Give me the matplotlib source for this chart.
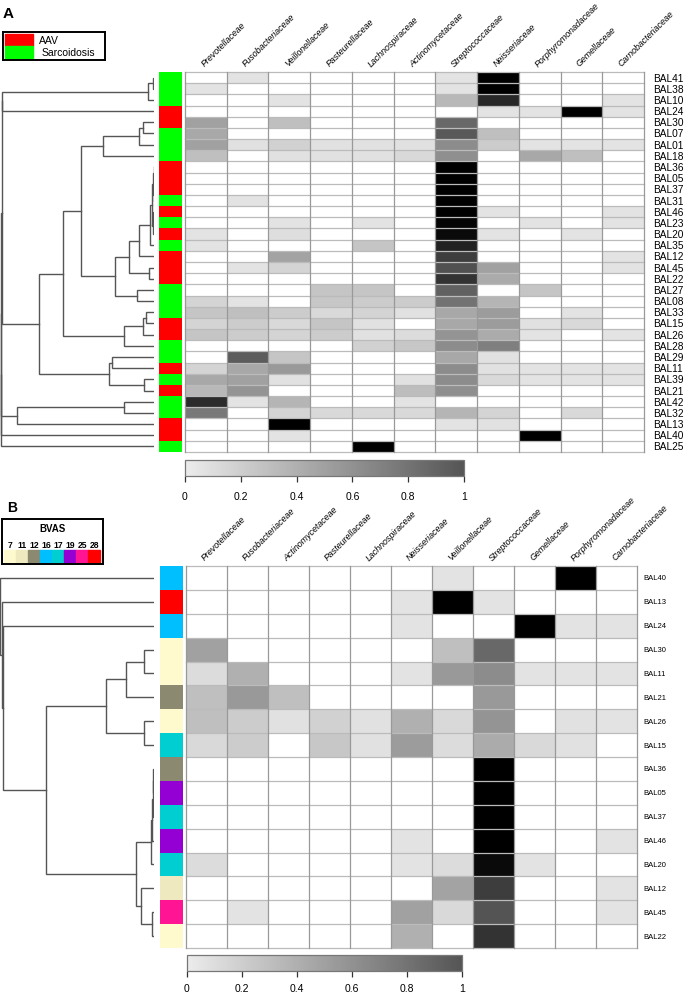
import numpy as np
import matplotlib
matplotlib.use("Agg")
import matplotlib.pyplot as plt
import matplotlib.cm as cm
from matplotlib.colors import LinearSegmentedColormap, Normalize
from matplotlib.patches import Rectangle

plt.rcParams['font.family'] = ['Liberation Sans', 'DejaVu Sans']

# ---------------- data : panel A ----------------
families_a = ["Prevotellaceae", "Fusobacteriaceae", "Veillonellaceae", "Pasteurellaceae",
              "Lachnospiraceae", "Actinomycetaceae", "Streptococcaceae", "Neisseriaceae",
              "Porphyromonadaceae", "Gemellaceae", "Carnobacteriaceae"]
samples_a = ["BAL41", "BAL38", "BAL10", "BAL24", "BAL30", "BAL07", "BAL01", "BAL18",
             "BAL36", "BAL05", "BAL37", "BAL31", "BAL46", "BAL23", "BAL20", "BAL35",
             "BAL12", "BAL45", "BAL22", "BAL27", "BAL08", "BAL33", "BAL15", "BAL26",
             "BAL28", "BAL29", "BAL11", "BAL39", "BAL21", "BAL42", "BAL32", "BAL13",
             "BAL40", "BAL25"]
groups_a = ["Sarcoidosis", "Sarcoidosis", "Sarcoidosis", "AAV", "AAV", "Sarcoidosis",
            "Sarcoidosis", "Sarcoidosis", "AAV", "AAV", "AAV", "Sarcoidosis", "AAV",
            "Sarcoidosis", "AAV", "Sarcoidosis", "AAV", "AAV", "AAV", "Sarcoidosis",
            "Sarcoidosis", "Sarcoidosis", "AAV", "AAV", "Sarcoidosis", "Sarcoidosis",
            "AAV", "Sarcoidosis", "AAV", "Sarcoidosis", "Sarcoidosis", "AAV", "AAV",
            "Sarcoidosis"]
abund_a = [
    [0, .11, 0, 0, 0, 0, .11, 1.0, 0, 0, 0],
    [.11, 0, 0, 0, 0, 0, .11, 1.0, 0, 0, 0],
    [0, 0, .11, 0, 0, 0, .28, .84, 0, 0, .11],
    [0, 0, 0, 0, 0, 0, 0, .11, .11, 1.0, .11],
    [.37, 0, .25, 0, 0, 0, .59, 0, 0, 0, 0],
    [.34, 0, 0, 0, 0, 0, .65, .25, 0, 0, 0],
    [.37, .12, .18, .12, .12, .12, .45, .20, .11, .11, .11],
    [.25, 0, .12, .12, .12, .15, .44, 0, .34, .25, 0],
    [0, 0, 0, 0, 0, 0, 1.0, 0, 0, 0, 0],
    [0, 0, 0, 0, 0, 0, 1.0, 0, 0, 0, 0],
    [0, 0, 0, 0, 0, 0, 1.0, 0, 0, 0, 0],
    [0, .11, 0, 0, 0, 0, 1.0, 0, 0, 0, 0],
    [0, 0, 0, 0, 0, 0, 1.0, .11, 0, 0, .11],
    [0, 0, .11, 0, .11, 0, .98, 0, .11, 0, .11],
    [.11, 0, .13, 0, 0, 0, .96, .11, 0, .11, 0],
    [.11, 0, 0, 0, .23, 0, .87, 0, 0, 0, 0],
    [0, 0, .36, 0, 0, 0, .76, 0, 0, 0, .11],
    [0, .11, .17, 0, 0, 0, .68, .37, 0, 0, .11],
    [0, 0, 0, 0, 0, 0, .80, .33, 0, 0, 0],
    [0, 0, 0, .23, .23, 0, .62, 0, .23, 0, 0],
    [.17, .11, 0, .22, .20, .20, .55, .29, 0, 0, 0],
    [.23, .25, .20, .15, .17, .12, .34, .39, 0, .11, 0],
    [.17, .20, .15, .23, .12, 0, .34, .39, .12, .15, 0],
    [.23, .20, .17, .20, .12, .14, .42, .33, .11, 0, .11],
    [0, 0, 0, 0, .18, .22, .45, .50, 0, 0, 0],
    [0, .64, .23, 0, 0, 0, .34, .12, 0, 0, 0],
    [.17, .34, .40, 0, 0, 0, .45, .12, .11, .11, .11],
    [.34, .37, .12, 0, 0, .12, .45, .15, .11, .11, .11],
    [.28, .42, 0, 0, 0, .26, .44, 0, 0, 0, 0],
    [.83, .11, .29, 0, 0, .11, 0, 0, 0, 0, 0],
    [.53, 0, .17, .15, .15, .15, .29, .17, 0, .15, 0],
    [0, 0, 1.0, 0, 0, 0, .11, .12, 0, 0, 0],
    [0, 0, .11, 0, 0, 0, 0, 0, 1.0, 0, 0],
    [0, 0, 0, 0, 1.0, 0, 0, 0, 0, 0, 0],
]
# merges: (child, child, distance); ids >= n refer to earlier merges
merges_a = [
    (0, 1, 2), (34, 2, 18), (4, 5, 33), (36, 6, 45), (37, 7, 152),
    (8, 9, 1), (10, 11, 1), (39, 40, 2), (12, 13, 2), (42, 14, 3),
    (41, 43, 5), (44, 15, 11), (45, 16, 44), (17, 18, 15), (46, 47, 74),
    (19, 20, 51), (48, 49, 117), (38, 50, 217), (21, 22, 23), (52, 23, 33),
    (53, 24, 89), (51, 54, 272), (25, 26, 125), (27, 28, 31), (56, 57, 135),
    (55, 58, 345), (29, 30, 91), (60, 31, 408), (35, 3, 454), (62, 59, 455),
    (63, 61, 456), (64, 32, 457), (65, 33, 458),
]
group_colors = {"AAV": "#ff0000", "Sarcoidosis": "#00ff00"}

# ---------------- data : panel B ----------------
families_b = ["Prevotellaceae", "Fusobacteriaceae", "Actinomycetaceae", "Pasteurellaceae",
              "Lachnospiraceae", "Neisseriaceae", "Veillonellaceae", "Streptococcaceae",
              "Gemellaceae", "Porphyromonadaceae", "Carnobacteriaceae"]
samples_b = ["BAL40", "BAL13", "BAL24", "BAL30", "BAL11", "BAL21", "BAL26", "BAL15",
             "BAL36", "BAL05", "BAL37", "BAL46", "BAL20", "BAL12", "BAL45", "BAL22"]
bvas_b = [16, 28, 16, 7, 7, 12, 7, 17, 12, 19, 17, 19, 17, 11, 25, 7]
abund_b = [
    [0, 0, 0, 0, 0, 0, .11, 0, 0, 1.0, 0],
    [0, 0, 0, 0, 0, .11, 1.0, .11, 0, 0, 0],
    [0, 0, 0, 0, 0, .11, 0, 0, 1.0, .11, .11],
    [.37, 0, 0, 0, 0, 0, .25, .59, 0, 0, 0],
    [.14, .31, 0, 0, 0, .11, .40, .45, .11, .11, .11],
    [.25, .40, .25, 0, 0, 0, 0, .40, 0, 0, 0],
    [.25, .20, .12, .18, .12, .31, .15, .42, 0, .12, .11],
    [.15, .20, 0, .22, .12, .39, .14, .33, .15, .12, 0],
    [0, 0, 0, 0, 0, 0, 0, 1.0, 0, 0, 0],
    [0, 0, 0, 0, 0, 0, 0, 1.0, 0, 0, 0],
    [0, 0, 0, 0, 0, 0, 0, 1.0, 0, 0, 0],
    [0, 0, 0, 0, 0, .11, 0, 1.0, 0, 0, .11],
    [.14, 0, 0, 0, 0, .11, .14, .96, .11, 0, 0],
    [0, 0, 0, 0, 0, 0, .36, .76, 0, 0, .11],
    [0, .11, 0, 0, 0, .37, .15, .67, 0, 0, .11],
    [0, 0, 0, 0, 0, .31, 0, .80, 0, 0, 0],
]
merges_b = [
    (3, 4, 30), (16, 5, 84), (6, 7, 30), (17, 18, 144), (8, 9, 1.5),
    (20, 10, 3), (21, 11, 4.5), (22, 12, 9), (14, 15, 6), (13, 24, 39),
    (23, 25, 54), (19, 26, 324), (2, 27, 450), (1, 28, 455), (0, 29, 459),
]
bvas_levels = [7, 11, 12, 16, 17, 19, 25, 28]
bvas_colors = ["#fffacd", "#eee9bf", "#8b8970", "#00bfff", "#00ced1", "#9400d3",
               "#ff1493", "#ff0000"]

cbar_ticks = [0, 0.2, 0.4, 0.6, 0.8, 1]
cbar_labels = ["0", "0.2", "0.4", "0.6", "0.8", "1"]

# ---------------- helpers ----------------
W, H = 685, 995


def box(x0, y0, x1, y1):
    """pixel rectangle (top-left origin) -> figure fraction rect"""
    return [x0 / W, 1 - y1 / H, (x1 - x0) / W, (y1 - y0) / H]


heat_cmap = LinearSegmentedColormap.from_list("wb", ["#ffffff", "#000000"])
bar_cmap = LinearSegmentedColormap.from_list("cb", ["#ececec", "#555555"])


def draw_tree(ax, merges, n, top=460):
    pos = {i: (float(i), 0.0) for i in range(n)}
    for k, (a, b, h) in enumerate(merges):
        ya, ha = pos[a]
        yb, hb = pos[b]
        ax.plot([ha, h, h, hb], [ya, ya, yb, yb], color="#555555", lw=1.0,
                solid_joinstyle="miter")
        pos[n + k] = ((ya + yb) / 2, h)
    ax.set_xlim(top, 0)
    ax.set_ylim(n - 0.5, -0.5)
    ax.axis("off")


def draw_side(ax, colors):
    n = len(colors)
    ax.barh(np.arange(n), 1, height=1.0, color=colors, left=0)
    ax.set_xlim(0, 1)
    ax.set_ylim(n - 0.5, -0.5)
    ax.axis("off")


def draw_heat(ax, vals, families, samples, pad, rsize):
    vals = np.array(vals)
    nr, nc = vals.shape
    ax.pcolormesh(np.arange(nc + 1), np.arange(nr + 1), vals, cmap=heat_cmap,
                  vmin=0, vmax=1)
    ax.set_xlim(0, nc)
    ax.set_ylim(nr, 0)
    for i in range(nr + 1):
        ax.axhline(i, color="#bbbbbb", lw=0.9, clip_on=False)
    for j in range(nc + 1):
        ax.axvline(j, color="#999999", lw=0.9, clip_on=False)
    ax.set_xticks([])
    ax.set_yticks([])
    for s in ax.spines.values():
        s.set_visible(False)
    for j, name in enumerate(families):
        ax.annotate(name, xy=(j + 0.5, 0), xytext=(0, 3), textcoords="offset points",
                    rotation=45, ha="left", va="bottom", rotation_mode="anchor",
                    fontsize=6.4, style="italic", annotation_clip=False)
    for i, s in enumerate(samples):
        ax.annotate(s, xy=(nc, i + 0.5), xytext=(pad, 0), textcoords="offset points",
                    ha="left", va="center", fontsize=rsize, annotation_clip=False)


def draw_cbar(fig, rect, pad):
    cax = fig.add_axes(rect)
    cb = fig.colorbar(cm.ScalarMappable(norm=Normalize(0, 1), cmap=bar_cmap),
                      cax=cax, orientation="horizontal", ticks=cbar_ticks)
    cb.ax.set_xticklabels(cbar_labels)
    cb.ax.tick_params(length=4.5, width=0.9, color="#333333", labelsize=7.5, pad=pad)
    cb.outline.set_edgecolor("#777777")
    cb.outline.set_linewidth(0.9)


fig = plt.figure(figsize=(6.85, 9.95), dpi=100)

# ---------------- panel A ----------------
fig.text(3 / W, 1 - 14 / H, "A", fontsize=11, weight="bold", va="center")
draw_tree(fig.add_axes(box(0, 73, 154, 453)), merges_a, len(samples_a))
draw_side(fig.add_axes(box(159, 73, 182, 453)), [group_colors[g] for g in groups_a])
draw_heat(fig.add_axes(box(185, 73, 644, 453)), abund_a, families_a, samples_a, 6.5, 7.3)
draw_cbar(fig, box(185, 461, 464, 477), 6)

lga = fig.add_axes(box(3, 33, 105, 61))
lga.set_xlim(3, 105)
lga.set_ylim(61, 33)
lga.set_xticks([])
lga.set_yticks([])
for s in lga.spines.values():
    s.set_linewidth(1.4)
lga.add_patch(Rectangle((5, 35), 28, 12, color=group_colors["AAV"]))
lga.add_patch(Rectangle((5, 47), 28, 12, color=group_colors["Sarcoidosis"]))
lga.text(39, 41.5, "AAV", fontsize=7.5, va="center")
lga.text(42, 53, "Sarcoidosis", fontsize=7.5, va="center")

# ---------------- panel B ----------------
fig.text(7 / W, 1 - 508 / H, "B", fontsize=10, weight="bold", va="center")
draw_tree(fig.add_axes(box(0, 567, 154, 949)), merges_b, len(samples_b))
bcol = dict(zip(bvas_levels, bvas_colors))
draw_side(fig.add_axes(box(160, 567, 183, 949)), [bcol[v] for v in bvas_b])
draw_heat(fig.add_axes(box(186, 567, 637, 949)), abund_b, families_b, samples_b, 4.5, 5.5)
draw_cbar(fig, box(187, 956, 462, 972), 4)

lgb = fig.add_axes(box(2, 520, 103, 565))
lgb.set_xlim(2, 103)
lgb.set_ylim(565, 520)
lgb.set_xticks([])
lgb.set_yticks([])
for s in lgb.spines.values():
    s.set_linewidth(1.4)
lgb.text(52, 529, "BVAS", fontsize=7, weight="bold", ha="center", va="center")
for k, (lev, col) in enumerate(zip(bvas_levels, bvas_colors)):
    lgb.add_patch(Rectangle((4 + 12 * k, 551), 12, 12, color=col))
    lgb.text(10 + 12 * k, 545.5, str(lev), fontsize=6.2, weight="bold",
             ha="center", va="center")

fig.savefig("out.png", dpi=100)
